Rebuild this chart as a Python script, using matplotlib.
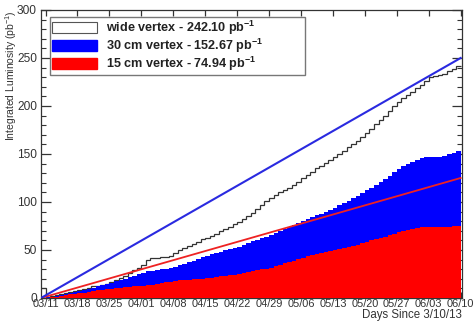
import numpy as np
import matplotlib
matplotlib.use("Agg")
import matplotlib.pyplot as plt
from matplotlib.patches import Patch
from matplotlib.ticker import MultipleLocator

plt.rcParams['font.family'] = ['Liberation Sans', 'DejaVu Sans']
plt.rcParams['mathtext.fontset'] = 'custom'
plt.rcParams['mathtext.rm'] = 'Liberation Sans'
plt.rcParams['mathtext.bf'] = 'Liberation Sans:bold'

# ---- data (cumulative integrated luminosity per day, pb^-1) ----
day_edges = list(range(0, 93))  # days since 3/10/13

wide_vertex = [10, 1, 2, 3, 4, 5, 6, 7, 8, 9,
               10, 12, 13, 14, 15, 17, 19, 21, 23, 26,
               29, 31, 34, 40, 42, 42, 43, 43, 44, 47,
               50, 52, 54, 56, 58, 61, 63, 65, 67, 70,
               72, 74, 77, 79, 82, 85, 89, 93, 97, 101,
               104, 107, 110, 113, 115, 118, 121, 125, 128, 131,
               135, 138, 141, 144, 147, 150, 153, 157, 160, 164,
               168, 172, 176, 181, 185, 190, 195, 200, 204, 208,
               211, 215, 219, 222, 226, 230, 231, 232, 233, 236,
               239, 242.10]

vertex_30cm = [0.5, 1, 1.5, 2, 3, 4, 5, 6, 7, 8,
               9, 10, 12, 14, 15, 16, 18, 19, 20, 22,
               23, 25, 26, 28, 28, 29, 30, 30, 31, 32,
               34, 35, 37, 39, 41, 43, 44, 46, 47, 48,
               50, 51, 52, 53, 55, 57, 59, 60, 62, 64,
               66, 68, 70, 72, 74, 76, 78, 80, 82, 84,
               86, 88, 90, 92, 94, 97, 99, 101, 104, 106,
               109, 112, 115, 118, 121, 124, 127, 131, 134, 137,
               140, 142, 144, 146, 147, 147, 147, 147, 148, 150,
               151, 152.67]

vertex_15cm = [0.3, 0.5, 1, 1.5, 2, 3, 4, 4.5, 5, 5.5,
               6, 7, 8, 8.5, 9, 9.5, 10, 10.5, 11, 11.5,
               12, 12.5, 13, 13.5, 14, 15, 16, 16.5, 17, 18,
               18.5, 19, 19, 19.5, 20, 20, 20.5, 21, 22, 22.5,
               23, 23.5, 24, 25, 26, 27, 28, 29, 30, 30.5,
               31, 33, 34, 36, 37, 39, 41, 42, 44, 45,
               46, 47, 48, 49, 50, 51, 52, 53, 54, 55,
               57, 58, 60, 61, 63, 64, 66, 67, 69, 70,
               71, 72, 73, 73.5, 74, 74, 74, 74, 74.2, 74.4,
               74.7, 74.94]

target_days = [0, 92]
target_30cm = [0, 250]
target_15cm = [0, 125]

tick_days = [1, 8, 15, 22, 29, 36, 43, 50, 57, 64, 71, 78, 85, 92]
tick_labels = ['03/11', '03/18', '03/25', '04/01', '04/08', '04/15', '04/22',
               '04/29', '05/06', '05/13', '05/20', '05/27', '06/03', '06/10']

legend_labels = [r'wide vertex - 242.10 pb$^{\mathbf{-1}}$',
                 r'30 cm vertex - 152.67 pb$^{\mathbf{-1}}$',
                 r'15 cm vertex - 74.94 pb$^{\mathbf{-1}}$']

# ---- figure ----
W, H = 473, 323
fig = plt.figure(figsize=(W / 100, H / 100), dpi=100)
ax = fig.add_axes([41 / W, 1 - 298 / H, 421 / W, 288 / H])

edges = np.array(day_edges)
ax.stairs(vertex_30cm, edges, fill=True, color='#0000ff', lw=0, zorder=2)
ax.stairs(vertex_15cm, edges, fill=True, color='#ff0000', lw=0, zorder=3)
ax.stairs(wide_vertex, edges, baseline=None, color='#333333', lw=0.9, zorder=1.8)
ax.plot(target_days, target_15cm, color='#ee2222', lw=1.3, zorder=4)
ax.plot(target_days, target_30cm, color='#2a2ae0', lw=1.5, zorder=5)

ax.set_xlim(0, 92.3)
ax.set_ylim(0, 300)
ax.set_xticks(tick_days)
ax.set_xticklabels(tick_labels)
ax.yaxis.set_major_locator(MultipleLocator(50))
ax.yaxis.set_minor_locator(MultipleLocator(10))

ax.tick_params(axis='both', which='both', direction='in', colors='#333333',
               top=True, right=True)
ax.tick_params(axis='y', which='major', length=7.5, width=0.9, labelsize=8.6, pad=3)
ax.tick_params(axis='y', which='minor', length=3.5, width=0.8)
ax.tick_params(axis='x', which='major', length=4.5, width=0.9, labelsize=7.9, pad=1.0)
for lab in ax.get_yticklabels() + ax.get_xticklabels():
    lab.set_color('#333333')
for s in ax.spines.values():
    s.set_color('#333333')
    s.set_linewidth(0.9)

handles = [Patch(facecolor='white', edgecolor='#555555', lw=0.8),
           Patch(facecolor='#0000ff', edgecolor='#0000ff'),
           Patch(facecolor='#ff0000', edgecolor='#ff0000')]
leg = ax.legend(handles, legend_labels, loc='upper left', mode='expand',
                bbox_to_anchor=(9 / 421, 1 - 7 / 288, 255 / 421, 0.001),
                borderaxespad=0,
                prop={'weight': 'bold', 'size': 9.1}, frameon=True,
                fancybox=False, edgecolor='#777777', framealpha=1,
                handlelength=3.55, handleheight=0.95, handletextpad=0.7,
                labelspacing=0.0, borderpad=0.15)
leg.get_frame().set_linewidth(1.0)
leg.set_zorder(10)
for t in leg.get_texts():
    t.set_color('#222222')

fig.text(11 / W, 1 - 10 / H, r'Integrated Luminosity (pb$^{-1}$)',
         rotation=90, ha='center', va='top', fontsize=7.5, color='#333333')
fig.text(462 / W, 1 - 315 / H, 'Days Since 3/10/13', ha='right', va='center',
         fontsize=8.3, color='#333333')

fig.savefig('out.png', dpi=100)
